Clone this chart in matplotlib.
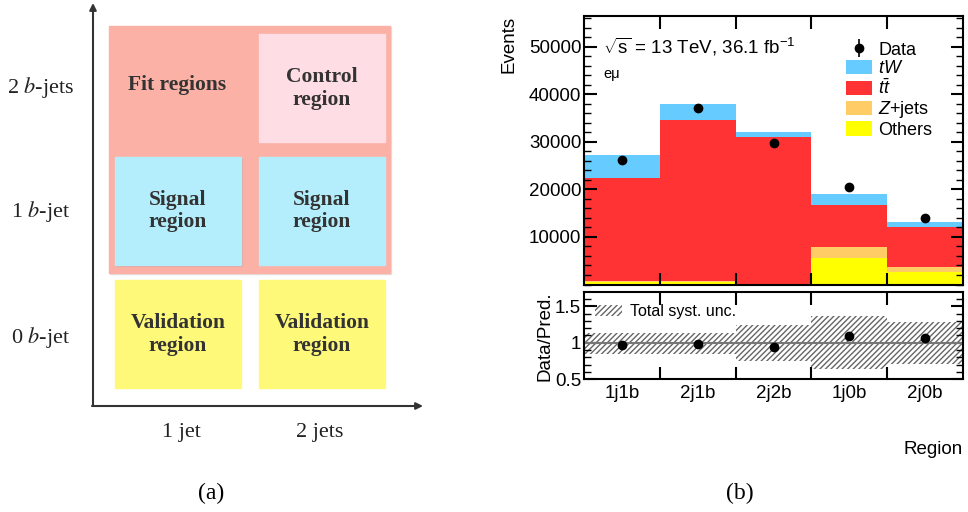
import numpy as np
import matplotlib.pyplot as plt
from matplotlib.patches import Rectangle
from matplotlib.ticker import MultipleLocator, FixedLocator, NullFormatter

# ---- data (right panel) ----
regions = ["1j1b", "2j1b", "2j2b", "1j0b", "2j0b"]
others = [500, 500, 100, 5600, 2600]
zjets = [150, 150, 50, 2200, 1000]
ttbar = [21700, 33900, 30800, 8950, 8500]
tw = [4850, 3400, 1050, 2300, 1150]
data = [26150, 37100, 29800, 20600, 14000]
ratio = [0.965, 0.98, 0.937, 1.087, 1.068]
syst_up = [1.14, 1.14, 1.24, 1.36, 1.29]
syst_dn = [0.84, 0.84, 0.75, 0.64, 0.71]

# ---- left diagram layout (pixel coords) ----
box_x = [115, 259, 115, 259, 259]
box_y = [280, 280, 157, 157, 34]
box_w = 126
box_h = [108, 108, 108, 108, 108]
box_col = ["#fff97a", "#fff97a", "#b4eefc", "#b4eefc", "#ffdde4"]
box_txt = ["Validation\nregion", "Validation\nregion", "Signal\nregion",
           "Signal\nregion", "Control\nregion"]
row_labels = ["2 $b$-jets", "1 $b$-jet", "0 $b$-jet"]
col_labels = ["1 jet", "2 jets"]

W, H = 968, 512
serif = "Liberation Serif"
sans = "Liberation Sans"
plt.rcParams["mathtext.fontset"] = "custom"
plt.rcParams["mathtext.rm"] = sans
plt.rcParams["mathtext.it"] = sans + ":italic"
plt.rcParams["hatch.linewidth"] = 1.0

fig = plt.figure(figsize=(W / 100, H / 100), dpi=100)

# left panel
ax0 = fig.add_axes([0, 0, 0.5, 1])
ax0.set_xlim(0, W / 2)
ax0.set_ylim(H, 0)
ax0.axis("off")

ax0.add_patch(Rectangle((110, 27), 281, 247, color="#e2e2e2", zorder=0))
ax0.add_patch(Rectangle((109, 26), 281, 247, color="#fcb1a6", zorder=1))
ax0.add_patch(Rectangle((116, 158), box_w, 108, color="#eaa39a", zorder=1.5))
for x, y, h, c, t in zip(box_x, box_y, box_h, box_col, box_txt):
    ax0.add_patch(Rectangle((x, y), box_w, h, color=c, zorder=2))
    ax0.text(x + box_w / 2, y + h / 2, t, ha="center", va="center",
             fontsize=15.5, fontweight="bold", family=serif, color="#333333",
             linespacing=1.2, zorder=3)
ax0.text(177, 85, "Fit regions", ha="center", va="center", fontsize=15.5,
         fontweight="bold", family=serif, color="#333333", zorder=3)

for lab, y in zip(row_labels, [88, 212, 337]):
    ax0.text(41, y, lab, ha="center", va="center", fontsize=16,
             family=serif, color="#222222", math_fontfamily="stix")
for lab, x in zip(col_labels, [181, 320]):
    ax0.text(x, 432, lab, ha="center", va="center", fontsize=16,
             family=serif, color="#222222")

arrow = dict(arrowstyle="-|>", color="#333333", lw=1.5, mutation_scale=10,
             shrinkA=0, shrinkB=0)
ax0.annotate("", xy=(93, 3), xytext=(93, 406), arrowprops=arrow)
ax0.annotate("", xy=(423, 406), xytext=(92, 406), arrowprops=arrow)

fig.text(211 / W, 1 - 493 / H, "(a)", ha="center", va="center",
         fontsize=17, family=serif)
fig.text(740 / W, 1 - 493 / H, "(b)", ha="center", va="center",
         fontsize=17, family=serif)

# right panel: stacked histogram
x = np.arange(len(regions))
ax1 = fig.add_axes([584 / W, 1 - 284.5 / H, 379 / W, 268.5 / H])
ax2 = fig.add_axes([584 / W, 1 - 379.3 / H, 379 / W, 87 / H])

bottom = np.zeros(len(regions))
stack = [(others, "#ffff00", "Others"), (zjets, "#ffcc66", "$Z$+jets"),
         (ttbar, "#ff3333", r"$t\bar{t}$"), (tw, "#66ccff", "$tW$")]
handles = {}
for vals, col, lab in stack:
    handles[lab] = ax1.bar(x, vals, width=1.0, bottom=bottom, color=col,
                           linewidth=0, label=lab)
    bottom += np.array(vals)
hd = ax1.errorbar(x, data, yerr=np.sqrt(data), fmt="o", color="black",
                  markersize=6, capsize=0, lw=1.2, label="Data")

ax1.set_xlim(-0.5, 4.5)
ax1.set_ylim(0, 56500)
ax1.set_ylabel("Events", family=sans, fontsize=13.5, loc="top", labelpad=8)

ax1.legend([hd, handles["$tW$"], handles[r"$t\bar{t}$"],
            handles["$Z$+jets"], handles["Others"]],
           ["Data", "$tW$", r"$t\bar{t}$", "$Z$+jets", "Others"],
           loc="upper left", bbox_to_anchor=(0.69, 0.905),
           frameon=False, prop={"family": sans, "size": 13},
           handlelength=1.45, handleheight=0.85, labelspacing=0.06,
           handletextpad=0.35, borderpad=0, borderaxespad=0)
ax1.text(0.05, 0.86, r"$\sqrt{\rm s}$ = 13 TeV, 36.1 fb$^{-1}$",
         transform=ax1.transAxes, family=sans, fontsize=13.5)
ax1.text(0.05, 0.77, "eμ", transform=ax1.transAxes, family=sans, fontsize=10.5)

# ratio panel
ax2.bar(x, np.array(syst_up) - np.array(syst_dn), width=1.0, bottom=syst_dn,
        fill=False, hatch="//////", edgecolor="#666666", linewidth=0,
        label="Total syst. unc.")
ax2.axhline(1.0, color="#777777", lw=1.5)
ax2.plot(x, ratio, "o", color="black", markersize=6)
ax2.set_xlim(-0.5, 4.5)
ax2.set_ylim(0.5, 1.69)
ax2.set_ylabel("Data/Pred.", family=sans, fontsize=13.5, labelpad=1)
ax2.set_xlabel("Region", family=sans, fontsize=13.5, loc="right", labelpad=28)
ax2.legend(loc="upper left", bbox_to_anchor=(0.0, 0.99), frameon=False,
           prop={"family": sans, "size": 11.5}, handlelength=1.7,
           handleheight=0.7, handletextpad=0.5, borderaxespad=0.3)
ax2.set_yticks([0.5, 1.0, 1.5])
ax2.set_yticklabels(["0.5", "1", "1.5"])
ax2.yaxis.set_minor_locator(MultipleLocator(0.1))

ax1.yaxis.set_major_locator(MultipleLocator(10000))
ax1.yaxis.set_minor_locator(MultipleLocator(2000))
ax1.set_yticks([10000, 20000, 30000, 40000, 50000])

for ax in (ax1, ax2):
    ax.xaxis.set_major_locator(FixedLocator([0.5, 1.5, 2.5, 3.5]))
    ax.xaxis.set_major_formatter(NullFormatter())
    ax.xaxis.set_minor_locator(FixedLocator(x))
    ax.tick_params(axis="x", which="major", direction="in", top=True,
                   bottom=True, length=9, width=1.5)
    ax.tick_params(axis="x", which="minor", length=0, pad=4)
    ax.tick_params(axis="y", which="major", direction="in", left=True,
                   right=True, length=9, width=1.5, labelsize=13.5, pad=2)
    ax.tick_params(axis="y", which="minor", direction="in", left=True,
                   right=True, length=5, width=1.0)
    for s in ax.spines.values():
        s.set_linewidth(1.5)
    for lab in ax.get_yticklabels():
        lab.set_family(sans)
ax1.set_xticklabels([], minor=True)
ax2.set_xticklabels(regions, minor=True, family=sans, fontsize=13.5)

fig.savefig("out.png", dpi=100)
